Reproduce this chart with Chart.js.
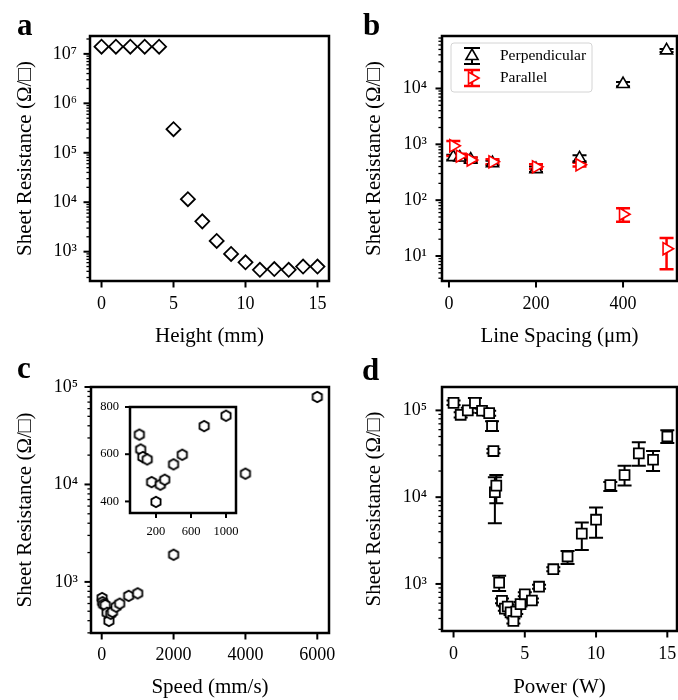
<!DOCTYPE html>
<html>
<head>
<meta charset="utf-8">
<script src="https://cdn.jsdelivr.net/npm/chart.js@4.4.1/dist/chart.umd.min.js"></script>
<style>
  body { margin: 0; background: #fff; }
  #wrap { position: relative; width: 678px; height: 700px; overflow: hidden; }
  #wrap canvas { position: absolute; left: 0; top: 0; }
  .tag { position: absolute; font: bold 31px "Liberation Serif", "Times New Roman", serif; line-height: 1; color: #000; }
</style>
</head>
<body>
<div id="wrap">
  <canvas id="pa" width="678" height="700"></canvas>
  <canvas id="pb" width="678" height="700"></canvas>
  <canvas id="pc" width="678" height="700"></canvas>
  <canvas id="pd" width="678" height="700"></canvas>
  <canvas id="pin" width="678" height="700"></canvas>
  <div class="tag" style="left:17px;top:9px">a</div>
  <div class="tag" style="left:363px;top:9px">b</div>
  <div class="tag" style="left:17px;top:352px">c</div>
  <div class="tag" style="left:362px;top:354px">d</div>
</div>
<script>
// ---- panel a: height ----
const heightMm = [0, 1, 2, 3, 4, 5, 6, 7, 8, 9, 10, 11, 12, 13, 14, 15];
const heightRs = [1.4e7, 1.4e7, 1.4e7, 1.4e7, 1.4e7, 3.0e5, 1.15e4, 4.1e3, 1.65e3, 900, 610, 430, 445, 430, 500, 500];

// ---- panel b: line spacing ----
const spacingUm = [10, 25, 50, 100, 200, 300, 400, 500];
const perpRs = [590, 580, 530, 460, 360, 560, 1.2e4, 4.8e4];
const perpLo = [530, 520, 480, 420, 320, 500, 1.1e4, 4.5e4];
const perpHi = [650, 640, 580, 510, 400, 640, 1.3e4, 5.1e4];
const paraRs = [940, 615, 525, 485, 395, 430, 56, 13.5];
const paraLo = [620, 560, 480, 440, 360, 400, 41, 5.8];
const paraHi = [1150, 680, 580, 540, 440, 470, 72, 21];

// ---- panel c: speed (main + inset) ----
const speedMm = [10, 25, 50, 100, 150, 200, 250, 300, 400, 500, 750, 1000, 2000, 4000, 6000];
const speedRs = [683, 620, 588, 578, 482, 398, 471, 492, 557, 598, 719, 763, 1.9e3, 1.29e4, 7.9e4];

// ---- panel d: power ----
const powerW = [0, 0.5, 1, 1.5, 2, 2.5, 2.7, 2.8, 2.9, 3.0, 3.2, 3.4, 3.6, 3.8, 4.0, 4.2, 4.4, 4.7, 5.0, 5.5, 6, 7, 8, 9, 10, 11, 12, 13, 14, 15];
const powerRs = [1.22e5, 8.9e4, 1.0e5, 1.22e5, 9.9e4, 9.3e4, 6.6e4, 3.4e4, 1.14e4, 1.36e4, 1035, 640, 520, 550, 470, 375, 480, 585, 760, 645, 930, 1480, 2070, 3800, 5500, 1.38e4, 1.8e4, 3.2e4, 2.7e4, 5.0e4];
const powerLo = [1.15e5, 8.3e4, 9.4e4, 1.06e5, 9.3e4, 8.7e4, 5.8e4, 3.2e4, 5.0e3, 8.5e3, 830, 600, 490, 520, 440, 350, 450, 550, 720, 610, 880, 1400, 1700, 2460, 3400, 1.18e4, 1.36e4, 2.3e4, 2.0e4, 4.2e4];
const powerHi = [1.3e5, 9.5e4, 1.07e5, 1.39e5, 1.05e5, 9.9e4, 7.5e4, 3.6e4, 1.7e4, 1.8e4, 1240, 680, 550, 580, 500, 400, 510, 620, 800, 680, 980, 1560, 2400, 5100, 7600, 1.5e4, 2.3e4, 4.3e4, 3.4e4, 5.9e4];

// ---- tick labels ----
const heightTicks = [0, 5, 10, 15];
const spacingTicks = [0, 200, 400];
const speedTicks = [0, 2000, 4000, 6000];
const powerTicks = [0, 5, 10, 15];
const insetXTicks = [200, 600, 1000];
const insetYTicks = [400, 600, 800];

const W = 678, H = 700;
const serif = '"Liberation Serif", "Times New Roman", "DejaVu Serif", serif';
Chart.defaults.font.family = serif;
Chart.defaults.color = '#000';
const yTitle = 'Sheet Resistance (Ω/□)';

const pts = (xs, ys) => xs.map((x, i) => ({x, y: ys[i]}));
const SUP = '⁰¹²³⁴⁵⁶⁷⁸⁹';
const decade = v => '10' + String(Math.round(Math.log10(v))).split('').map(d => SUP[+d]).join('');

function logTicks(min, max) {
  const out = [];
  for (let e = Math.floor(Math.log10(min)); e <= Math.ceil(Math.log10(max)); e++) {
    for (let m = 1; m < 10; m++) {
      const v = m * Math.pow(10, e);
      if (v >= min && v <= max * 1.0001) out.push({value: v, major: m === 1});
    }
  }
  return out;
}

// hexagon marker (no built-in style for it)
function hexMarker(r, lw) {
  const s = 2 * Math.ceil(r + lw);
  const c = document.createElement('canvas');
  c.width = c.height = s;
  const g = c.getContext('2d');
  g.beginPath();
  for (let k = 0; k < 6; k++) {
    const a = Math.PI / 2 + k * Math.PI / 3;
    const px = s / 2 + r * Math.cos(a), py = s / 2 - r * Math.sin(a);
    k ? g.lineTo(px, py) : g.moveTo(px, py);
  }
  g.closePath();
  g.fillStyle = '#fff'; g.fill();
  g.lineWidth = lw; g.strokeStyle = '#000'; g.stroke();
  return c;
}
const hex = hexMarker(5.3, 1.8);

const errorBars = {
  id: 'errorBars',
  beforeDatasetsDraw(chart) {
    const {ctx} = chart;
    const xs = chart.scales.x, ys = chart.scales.y;
    chart.data.datasets.forEach(ds => {
      if (!ds.errLo) return;
      ctx.save();
      ctx.strokeStyle = ds.borderColor;
      ctx.lineWidth = ds.errWidth || 2;
      ds.data.forEach((p, i) => {
        const x = xs.getPixelForValue(p.x);
        const y1 = ys.getPixelForValue(ds.errLo[i]);
        const y2 = ys.getPixelForValue(ds.errHi[i]);
        ctx.beginPath();
        ctx.moveTo(x, y1); ctx.lineTo(x, y2);
        ctx.moveTo(x - 7, y1); ctx.lineTo(x + 7, y1);
        ctx.moveTo(x - 7, y2); ctx.lineTo(x + 7, y2);
        ctx.stroke();
      });
      ctx.restore();
    });
  }
};

// outward tick marks + heavy frame
const frameTicks = {
  id: 'frameTicks',
  beforeDraw(chart, args, o) {
    if (!o.fill) return;
    const a = chart.chartArea;
    chart.ctx.save();
    chart.ctx.fillStyle = '#fff';
    chart.ctx.fillRect(a.left, a.top, a.right - a.left, a.bottom - a.top);
    chart.ctx.restore();
  },
  afterDatasetsDraw(chart, args, o) {
    const {ctx, chartArea: a} = chart;
    const len = o.len || 6;
    ctx.save();
    ctx.strokeStyle = '#000';
    Object.values(chart.scales).forEach(s => {
      s.ticks.forEach(t => {
        const p = s.getPixelForValue(t.value);
        const minor = t.major === false;
        const l = minor ? len * 0.55 : len;
        ctx.lineWidth = minor ? 1.3 : 2;
        ctx.beginPath();
        if (s.isHorizontal()) { ctx.moveTo(p, a.bottom); ctx.lineTo(p, a.bottom + l); }
        else { ctx.moveTo(a.left, p); ctx.lineTo(a.left - l, p); }
        ctx.stroke();
      });
    });
    ctx.lineWidth = 2.5;
    ctx.strokeRect(a.left, a.top, a.right - a.left, a.bottom - a.top);
    ctx.restore();
  }
};

function marker(ctx, style, rot, r, x, y) {
  ctx.beginPath();
  if (style === 'triangle') {
    let a = rot * Math.PI / 180;
    for (let k = 0; k < 3; k++) {
      const px = x + Math.sin(a) * r, py = y - Math.cos(a) * r;
      k ? ctx.lineTo(px, py) : ctx.moveTo(px, py);
      a += 2 * Math.PI / 3;
    }
  }
  ctx.closePath();
}

const boxLegend = {
  id: 'boxLegend',
  afterDraw(chart, args, o) {
    if (!o.box) return;
    const {ctx} = chart;
    const [x0, y0, w, h] = o.box;
    ctx.save();
    ctx.fillStyle = 'rgba(255,255,255,0.85)';
    ctx.strokeStyle = '#d4d4d4';
    ctx.lineWidth = 1;
    ctx.beginPath();
    ctx.roundRect(x0, y0, w, h, 3);
    ctx.fill(); ctx.stroke();
    chart.data.datasets.forEach((ds, i) => {
      const cy = y0 + 13 + i * 22;
      const mx = x0 + 21;
      ctx.strokeStyle = ds.borderColor;
      ctx.lineWidth = ds.errWidth || 2;
      ctx.beginPath();
      ctx.moveTo(mx, cy - 8); ctx.lineTo(mx, cy + 8);
      ctx.moveTo(mx - 8, cy - 8); ctx.lineTo(mx + 8, cy - 8);
      ctx.moveTo(mx - 8, cy + 8); ctx.lineTo(mx + 8, cy + 8);
      ctx.stroke();
      marker(ctx, ds.pointStyle, ds.pointRotation || 0, ds.pointRadius, mx, cy);
      ctx.fillStyle = '#fff'; ctx.fill();
      ctx.lineWidth = ds.borderWidth; ctx.stroke();
      ctx.fillStyle = '#000';
      ctx.font = '15.5px ' + serif;
      ctx.textBaseline = 'middle';
      ctx.fillText(ds.label, x0 + 49, cy);
    });
    ctx.restore();
  }
};

function makeChart(id, box, datasets, xo, yo, extra) {
  const [l, t, r, b] = box;
  const axisLeft = extra.axisLeft, axisBottom = extra.axisBottom;
  const logY = yo.type === 'logarithmic';
  return new Chart(document.getElementById(id), {
    type: 'scatter',
    data: {datasets},
    options: {
      responsive: false,
      animation: false,
      events: [],
      layout: {autoPadding: false, padding: {left: axisLeft, top: t, right: W - r, bottom: H - axisBottom}},
      plugins: {
        legend: {display: false},
        tooltip: {enabled: false},
        frameTicks: {len: extra.tickLen || 6, fill: !!extra.fill},
        boxLegend: extra.legend || {}
      },
      scales: {
        x: {
          type: 'linear', min: xo.min, max: xo.max,
          afterFit: s => { s.height = axisBottom - b; s.paddingLeft = 0; s.paddingRight = 0; },
          afterBuildTicks: s => { s.ticks = xo.ticks.map(v => ({value: v})); },
          grid: {display: false, drawTicks: false},
          border: {display: false},
          ticks: {autoSkip: false, maxRotation: 0, padding: xo.pad, font: {size: xo.fs}, color: '#000', callback: v => String(v)},
          title: xo.title ? {display: true, text: xo.title, color: '#000', font: {size: 21, lineHeight: 1}, padding: 0} : {display: false}
        },
        y: {
          type: yo.type, min: yo.min, max: yo.max,
          afterFit: s => { s.width = l - axisLeft; s.paddingTop = 0; s.paddingBottom = 0; },
          afterBuildTicks: s => { s.ticks = logY ? logTicks(yo.min, yo.max) : yo.ticks.map(v => ({value: v})); },
          grid: {display: false, drawTicks: false},
          border: {display: false},
          ticks: {
            autoSkip: false, padding: yo.pad, font: {size: yo.fs}, color: '#000',
            callback: (v, i, tk) => logY ? (tk[i].major ? decade(v) : '') : String(v)
          },
          title: yo.title ? {display: true, text: yo.title, color: '#000', font: {size: 21, lineHeight: 1}, padding: {top: extra.yTitleX - axisLeft - 10.5, bottom: 0}} : {display: false}
        }
      }
    },
    plugins: [errorBars, frameTicks, boxLegend]
  });
}

const hollow = {backgroundColor: '#fff', borderColor: '#000', borderWidth: 1.8};

// a
makeChart('pa', [90, 36, 329, 281],
  [{label: 'Height', data: pts(heightMm, heightRs), pointStyle: 'rectRot', pointRadius: 7, ...hollow}],
  {min: -0.8, max: 15.8, ticks: heightTicks, pad: 12, fs: 18, title: 'Height (mm)'},
  {type: 'logarithmic', min: 255, max: 2.3e7, pad: 13, fs: 18, title: yTitle},
  {axisLeft: 0, axisBottom: 347, yTitleX: 25, tickLen: 6.5});

// b
makeChart('pb', [442, 36, 677, 281],
  [
    {label: 'Perpendicular', data: pts(spacingUm, perpRs), errLo: perpLo, errHi: perpHi,
     pointStyle: 'triangle', pointRadius: 7, order: 1, ...hollow, borderWidth: 1.6},
    {label: 'Parallel', data: pts(spacingUm, paraRs), errLo: paraLo, errHi: paraHi, errWidth: 2.5,
     pointStyle: 'triangle', pointRotation: 90, pointRadius: 7, order: 0,
     backgroundColor: '#fff', borderColor: '#ff0000', borderWidth: 1.6}
  ],
  {min: -16, max: 524, ticks: spacingTicks, pad: 12, fs: 18, title: 'Line Spacing (μm)'},
  {type: 'logarithmic', min: 3.57, max: 8.7e4, pad: 15, fs: 18, title: yTitle},
  {axisLeft: 340, axisBottom: 347, yTitleX: 374, tickLen: 6.5, legend: {box: [451, 43, 141, 49]}});

// c
makeChart('pc', [91, 387, 329, 633],
  [{label: 'Speed', data: pts(speedMm, speedRs), pointStyle: hex, ...hollow}],
  {min: -298, max: 6326, ticks: speedTicks, pad: 11, fs: 18, title: 'Speed (mm/s)'},
  {type: 'logarithmic', min: 299, max: 1e5, pad: 13, fs: 18, title: yTitle},
  {axisLeft: 0, axisBottom: 698, yTitleX: 25, tickLen: 6.5});

// c inset
makeChart('pin', [130, 407, 236, 513],
  [{label: 'Speed inset', data: pts(speedMm, speedRs), pointStyle: hex, ...hollow}],
  {min: -97, max: 1114, ticks: insetXTicks, pad: 11, fs: 12.5},
  {type: 'linear', min: 351, max: 800, ticks: insetYTicks, pad: 11, fs: 12.5},
  {axisLeft: 60, axisBottom: 560, tickLen: 5, fill: true});

// d
makeChart('pd', [442, 387, 677, 631],
  [{label: 'Power', data: pts(powerW, powerRs), errLo: powerLo, errHi: powerHi,
    pointStyle: 'rect', pointRadius: 7, ...hollow}],
  {min: -0.81, max: 15.68, ticks: powerTicks, pad: 12, fs: 18, title: 'Power (W)'},
  {type: 'logarithmic', min: 287, max: 1.86e5, pad: 15, fs: 18, title: yTitle},
  {axisLeft: 340, axisBottom: 698, yTitleX: 374, tickLen: 6.5});
</script>
</body>
</html>
